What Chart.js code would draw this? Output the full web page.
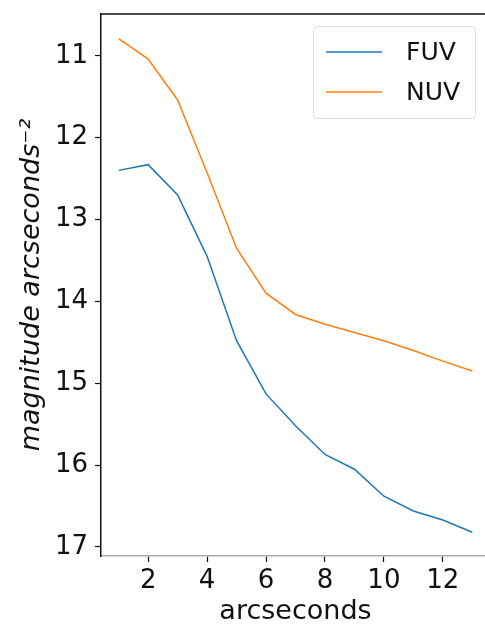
<!DOCTYPE html>
<html>
<head>
<meta charset="utf-8">
<script src="https://cdn.jsdelivr.net/npm/chart.js@4/dist/chart.umd.min.js"></script>
<style>
  html, body { margin: 0; padding: 0; background: #fff; overflow: hidden; }
  canvas { display: block; }
</style>
</head>
<body>
<canvas id="c" width="490" height="628"></canvas>
<script>
const arcsec = [1, 2, 3, 4, 5, 6, 7, 8, 9, 10, 11, 12, 13];
const fuv = [12.40, 12.33, 12.70, 13.45, 14.48, 15.13, 15.52, 15.87, 16.05, 16.38, 16.56, 16.67, 16.82];
const nuv = [10.79, 11.04, 11.54, 12.43, 13.35, 13.90, 14.16, 14.28, 14.38, 14.48, 14.60, 14.73, 14.85];
const xTicks = [2, 4, 6, 8, 10, 12];
const yTicks = [11, 12, 13, 14, 15, 16, 17];

const FONT = "'DejaVu Sans', sans-serif";

// legend + top spine drawn by hand, matplotlib style
const extras = {
    id: 'extras',
    afterDraw(chart) {
        const ctx = chart.ctx;
        const a = chart.chartArea;
        ctx.save();
        ctx.strokeStyle = '#111';
        ctx.lineWidth = 1.5;
        ctx.beginPath();
        ctx.moveTo(a.left, a.top);
        ctx.lineTo(a.right, a.top);
        ctx.stroke();

        // legend box
        const bx = 313, by = 26, bw = 162, bh = 92;
        ctx.fillStyle = 'rgba(255,255,255,0.8)';
        ctx.strokeStyle = '#dcdcdc';
        ctx.lineWidth = 1;
        ctx.beginPath();
        ctx.roundRect(bx + 0.5, by + 0.5, bw, bh, 4);
        ctx.fill();
        ctx.stroke();

        ctx.font = '25px ' + FONT;
        ctx.textBaseline = 'middle';
        chart.data.datasets.forEach((ds, i) => {
            const y = 52 + i * 40;
            ctx.strokeStyle = ds.borderColor;
            ctx.lineWidth = 1.5;
            ctx.beginPath();
            ctx.moveTo(326, y);
            ctx.lineTo(382, y);
            ctx.stroke();
            ctx.fillStyle = '#111';
            ctx.fillText(ds.label, 406, y + 1);
        });
        ctx.restore();
    }
};

new Chart(document.getElementById('c'), {
    type: 'line',
    data: {
        datasets: [
            { label: 'FUV', data: arcsec.map((x, i) => ({ x: x, y: fuv[i] })), borderColor: '#1f77b4' },
            { label: 'NUV', data: arcsec.map((x, i) => ({ x: x, y: nuv[i] })), borderColor: '#ff7f0e' }
        ]
    },
    options: {
        responsive: false,
        animation: false,
        devicePixelRatio: 1,
        layout: { padding: { top: 14, right: 0, left: 0, bottom: 0 } },
        elements: {
            line: { borderWidth: 1.5, tension: 0 },
            point: { radius: 0 }
        },
        plugins: { legend: { display: false }, tooltip: { enabled: false } },
        scales: {
            x: {
                type: 'linear',
                min: 0.4,
                max: 13.6,
                afterFit: s => { s.height = 72; s.paddingLeft = 0; s.paddingRight = 0; },
                afterBuildTicks: s => { s.ticks = xTicks.map(v => ({ value: v })); },
                grid: { drawOnChartArea: false, tickLength: 6, tickColor: '#111', tickWidth: 1.2 },
                border: { color: '#aaa', width: 1.5 },
                ticks: { color: '#111', font: { family: FONT, size: 26 }, padding: 4, maxRotation: 0 },
                title: { display: true, text: 'arcseconds', color: '#111', font: { family: FONT, size: 27 }, padding: { top: 0, bottom: 0 } }
            },
            y: {
                type: 'linear',
                reverse: true,
                min: 10.49,
                max: 17.11,
                afterFit: s => { s.width = 101; s.paddingTop = 0; s.paddingBottom = 0; },
                afterBuildTicks: s => { s.ticks = yTicks.map(v => ({ value: v })); },
                grid: { drawOnChartArea: false, tickLength: 6, tickColor: '#111', tickWidth: 1.2 },
                border: { color: '#111', width: 1.5 },
                ticks: { color: '#111', font: { family: FONT, size: 26 }, padding: 7 },
                title: { display: true, text: 'magnitude arcseconds\u207B\u00B2', color: '#111', font: { family: FONT, size: 27, style: 'italic' }, padding: { top: 16, bottom: 0 } }
            }
        }
    },
    plugins: [extras]
});
</script>
</body>
</html>
